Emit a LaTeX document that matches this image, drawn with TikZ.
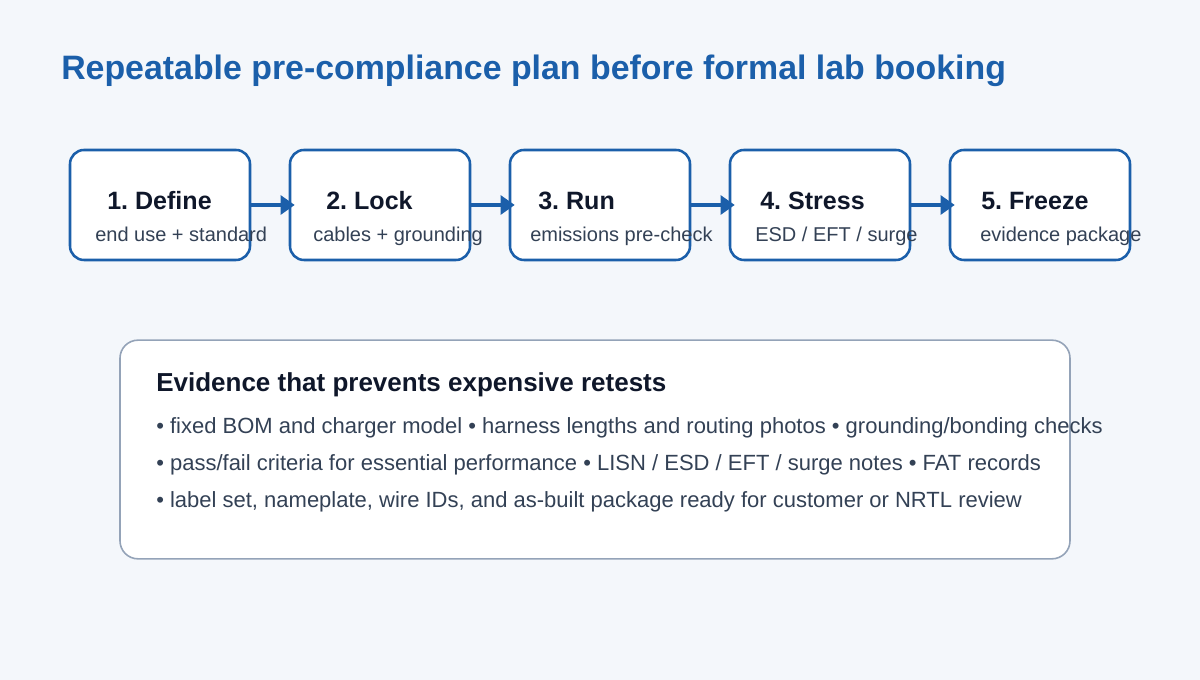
\documentclass[tikz,border=0pt]{standalone}
\usepackage{fontspec}
\setmainfont{Liberation Sans}
\usetikzlibrary{arrows.meta}
\definecolor{bg}{HTML}{F4F7FB}
\definecolor{accent}{HTML}{1B5FAA}
\definecolor{ink}{HTML}{0F172A}
\definecolor{sub}{HTML}{334155}
\definecolor{frame}{HTML}{94A3B8}
\frenchspacing
\tikzset{
  stepbox/.style={draw=accent, line width=1.9pt, fill=white, rounded corners=10.5pt, minimum width=135pt, minimum height=82.5pt, inner sep=0pt},
  steptitle/.style={anchor=base west, inner sep=0pt, text=ink, font=\fontsize{18.8pt}{22pt}\selectfont\bfseries},
  stepsub/.style={anchor=base west, inner sep=0pt, text=sub, font=\fontsize{15pt}{18pt}\selectfont},
  flow/.style={draw=accent, line width=3.3pt, -{Triangle[length=10.5pt,width=14pt]}, shorten >=-4.5pt},
  bullet/.style={anchor=base west, inner sep=0pt, text=sub, font=\fontsize{16.5pt}{20pt}\selectfont},
}
\begin{document}
\begin{tikzpicture}[x=0.75pt,y=-0.75pt]
\fill[bg] (0,0) rectangle (1200,680);
\useasboundingbox (0,0) rectangle (1200,680);
\node[anchor=base west, inner sep=0pt, text=accent, font=\fontsize{25.4pt}{30pt}\selectfont\bfseries] (title) at (61,80) {Repeatable pre-compliance plan before formal lab booking};

\node[stepbox] (b1) at (160,205) {};
\node[stepbox] (b2) at (380,205) {};
\node[stepbox] (b3) at (600,205) {};
\node[stepbox] (b4) at (820,205) {};
\node[stepbox] (b5) at (1040,205) {};

\node[steptitle] (t1) at (107,210) {1. Define};
\node[steptitle] (t2) at (326,210) {2. Lock};
\node[steptitle] (t3) at (538,210) {3. Run};
\node[steptitle] (t4) at (760,210) {4. Stress};
\node[steptitle] (t5) at (981,210) {5. Freeze};

\node[stepsub] (s1) at (95,242) {end use + standard};
\node[stepsub] (s2) at (313,242) {cables + grounding};
\node[stepsub] (s3) at (530,242) {emissions pre-check};
\node[stepsub] (s4) at (755,242) {ESD / EFT / surge};
\node[stepsub] (s5) at (980,242) {evidence package};

\draw[flow] (b1.east) -- (b2.west);
\draw[flow] (b2.east) -- (b3.west);
\draw[flow] (b3.east) -- (b4.west);
\draw[flow] (b4.east) -- (b5.west);

\node[draw=frame, line width=1.2pt, fill=white, rounded corners=13.5pt, minimum width=712.5pt, minimum height=164pt, inner sep=0pt] (ev) at (595,449.5) {};
\node[anchor=base west, inner sep=0pt, text=ink, font=\fontsize{19.5pt}{23pt}\selectfont\bfseries] (evh) at (156,392) {Evidence that prevents expensive retests};
\node[bullet] (l1) at (156,434) {• fixed BOM and charger model • harness lengths and routing photos • grounding/bonding checks};
\node[bullet] (l2) at (156,471) {• pass/fail criteria for essential performance • LISN / ESD / EFT / surge notes • FAT records};
\node[bullet] (l3) at (156,508) {• label set, nameplate, wire IDs, and as-built package ready for customer or NRTL review};
\end{tikzpicture}
\end{document}
